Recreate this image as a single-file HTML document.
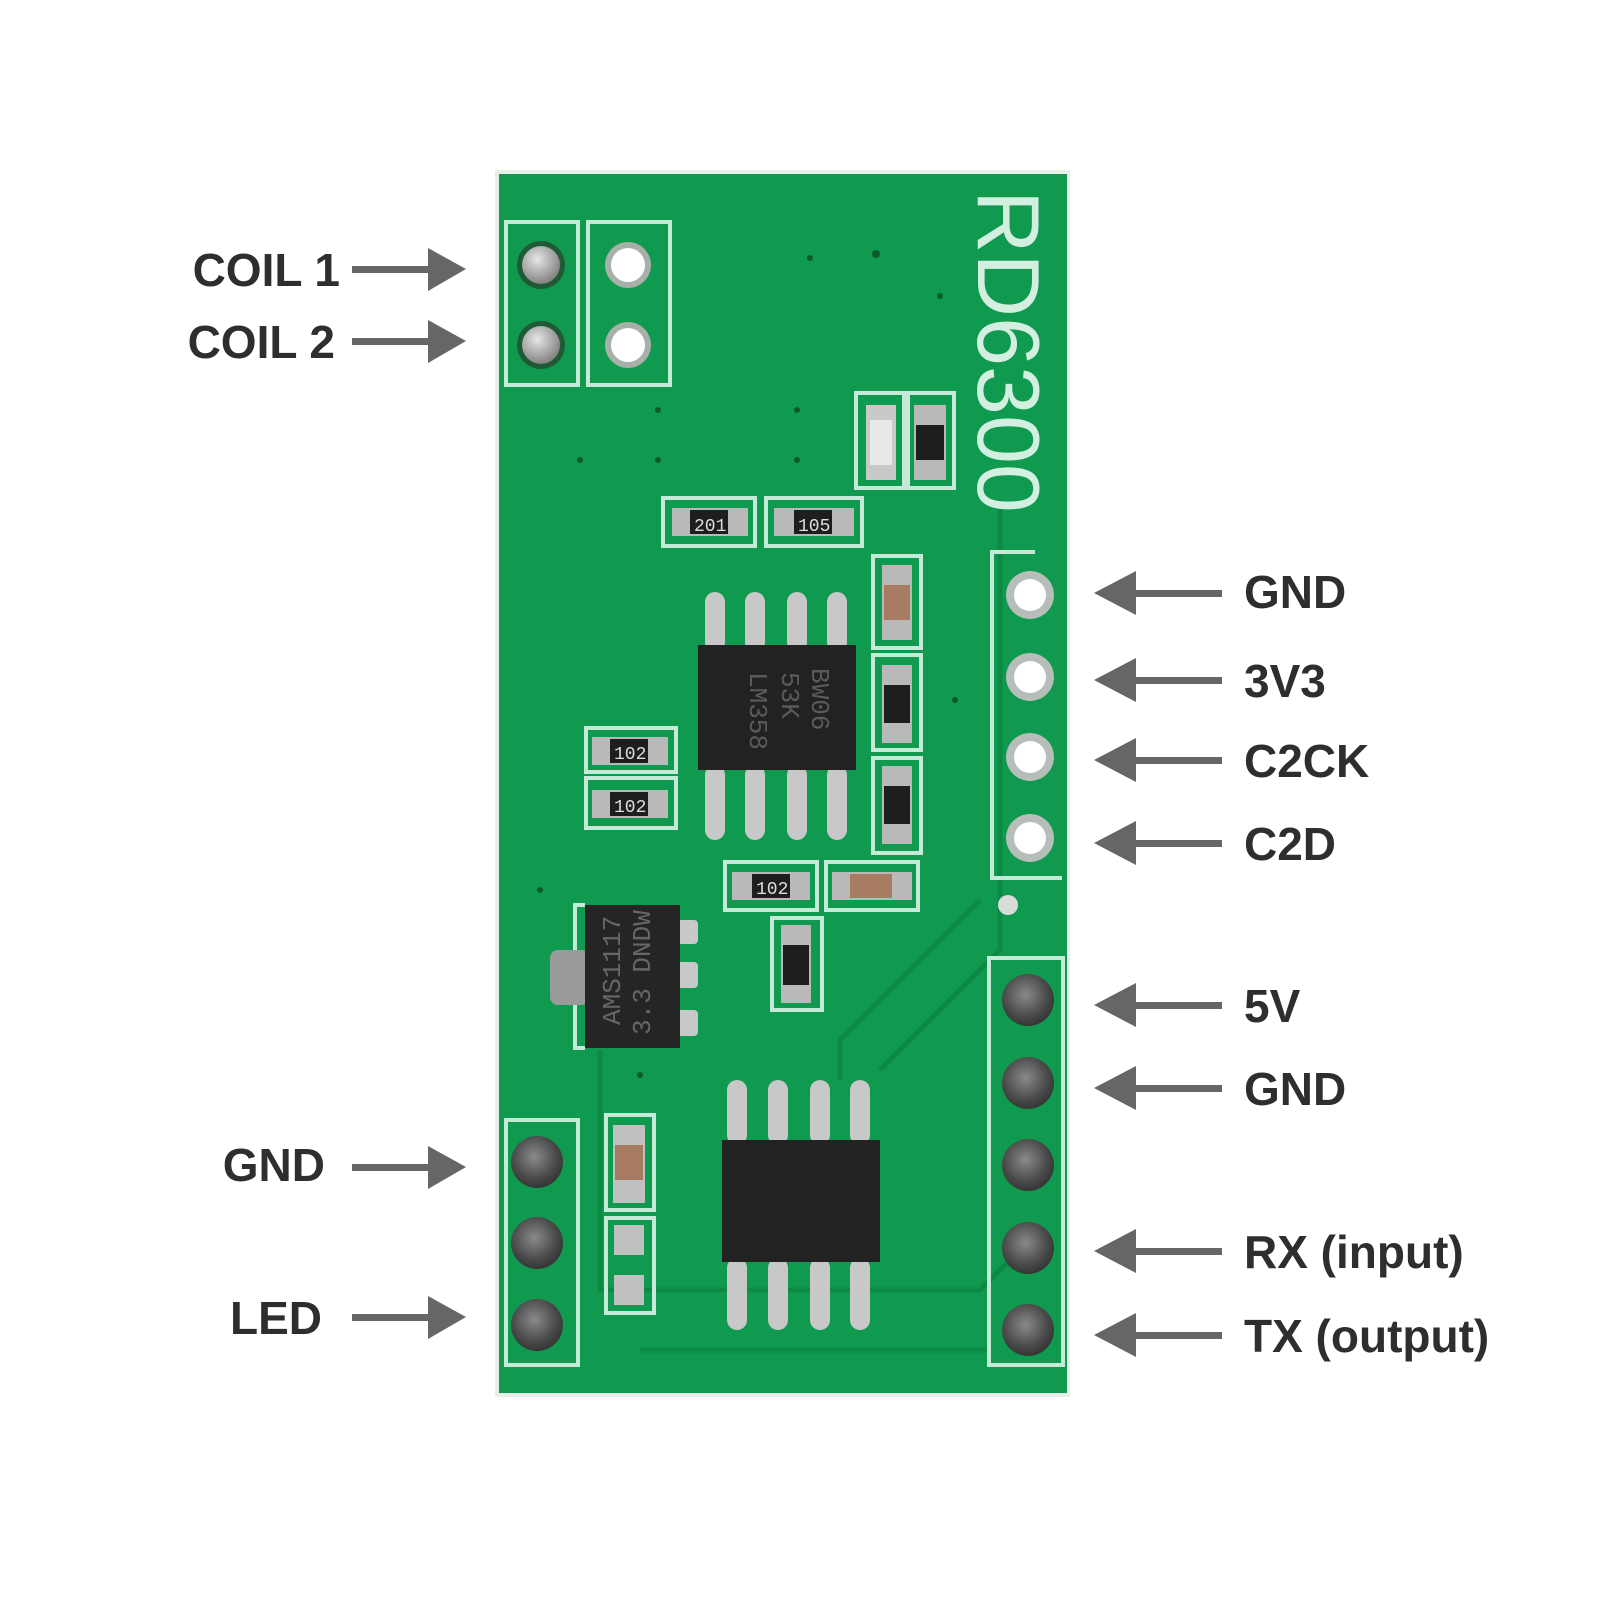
<!DOCTYPE html>
<html><head><meta charset="utf-8"><style>
html,body{margin:0;padding:0;background:#fff}
svg{display:block}
.l{font-family:"Liberation Sans",sans-serif;font-weight:bold;font-size:46px;fill:#2e2e2e}
.silk{fill:none;stroke:#c6ead8;stroke-width:4}
</style></head><body>
<svg width="1600" height="1600" viewBox="0 0 1600 1600">
<defs>
<radialGradient id="sv" cx="40%" cy="35%" r="70%"><stop offset="0" stop-color="#e6e6e6"/><stop offset="1" stop-color="#7c7c7c"/></radialGradient>
<radialGradient id="dk" cx="45%" cy="40%" r="70%"><stop offset="0" stop-color="#8a8a8a"/><stop offset="0.6" stop-color="#4a4a4a"/><stop offset="1" stop-color="#2a2a2a"/></radialGradient>
</defs>
<rect x="495" y="170" width="575" height="1227" fill="#e8efe9"/>
<rect x="499" y="174" width="568" height="1219" fill="#0f9a4f"/>
<g fill="none" stroke="#0c8a45" stroke-width="5">
<path d="M1000 500 L1000 950 L880 1070"/>
<path d="M980 900 L840 1040 L840 1080"/>
<path d="M700 1290 L980 1290 L1040 1230"/>
<path d="M640 1350 L990 1350"/>
<path d="M600 1050 L600 1290 L720 1290"/>
</g>
<rect class="silk" x="506" y="222" width="72" height="163"/>
<rect class="silk" x="588" y="222" width="82" height="163"/>
<circle cx="541" cy="265" r="24" fill="#1f5a35"/><circle cx="541" cy="265" r="19" fill="url(#sv)"/>
<circle cx="541" cy="345" r="24" fill="#1f5a35"/><circle cx="541" cy="345" r="19" fill="url(#sv)"/>
<circle cx="628" cy="265" r="23" fill="#a8b0aa"/><circle cx="628" cy="265" r="17" fill="#fff"/>
<circle cx="628" cy="345" r="23" fill="#a8b0aa"/><circle cx="628" cy="345" r="17" fill="#fff"/>
<text x="0" y="0" transform="translate(978,190) rotate(90)" font-family="Liberation Sans,sans-serif" font-size="88" fill="#d2efe0">RD6300</text>
<path class="silk" d="M1035 552 L992 552 L992 878 L1062 878"/>
<g>
<circle cx="1030" cy="595" r="24" fill="#b7bdb8"/><circle cx="1030" cy="595" r="16" fill="#fff"/>
<circle cx="1030" cy="677" r="24" fill="#b7bdb8"/><circle cx="1030" cy="677" r="16" fill="#fff"/>
<circle cx="1030" cy="757" r="24" fill="#b7bdb8"/><circle cx="1030" cy="757" r="16" fill="#fff"/>
<circle cx="1030" cy="838" r="24" fill="#b7bdb8"/><circle cx="1030" cy="838" r="16" fill="#fff"/>
</g>
<circle cx="1008" cy="905" r="10" fill="#d9dcd9"/>
<rect class="silk" x="989" y="958" width="74" height="407"/>
<g>
<circle cx="1028" cy="1000" r="26" fill="url(#dk)"/>
<circle cx="1028" cy="1083" r="26" fill="url(#dk)"/>
<circle cx="1028" cy="1165" r="26" fill="url(#dk)"/>
<circle cx="1028" cy="1248" r="26" fill="url(#dk)"/>
<circle cx="1028" cy="1330" r="26" fill="url(#dk)"/>
</g>
<rect class="silk" x="506" y="1120" width="72" height="245"/>
<circle cx="537" cy="1162" r="26" fill="url(#dk)"/>
<circle cx="537" cy="1243" r="26" fill="url(#dk)"/>
<circle cx="537" cy="1325" r="26" fill="url(#dk)"/>
<g fill="#c8c8c8">
<rect x="705" y="592" width="20" height="60" rx="10"/><rect x="745" y="592" width="20" height="60" rx="10"/><rect x="787" y="592" width="20" height="60" rx="10"/><rect x="827" y="592" width="20" height="60" rx="10"/>
<rect x="705" y="765" width="20" height="75" rx="10"/><rect x="745" y="765" width="20" height="75" rx="10"/><rect x="787" y="765" width="20" height="75" rx="10"/><rect x="827" y="765" width="20" height="75" rx="10"/>
</g>
<rect x="698" y="645" width="158" height="125" fill="#222"/>
<g font-family="Liberation Mono,monospace" font-size="26" fill="#5a5a5a">
<text transform="translate(812,668) rotate(90)">BW06</text>
<text transform="translate(782,672) rotate(90)">53K</text>
<text transform="translate(750,672) rotate(90)">LM358</text>
</g>
<g fill="#c8c8c8">
<rect x="727" y="1080" width="20" height="65" rx="10"/><rect x="768" y="1080" width="20" height="65" rx="10"/><rect x="810" y="1080" width="20" height="65" rx="10"/><rect x="850" y="1080" width="20" height="65" rx="10"/>
<rect x="727" y="1258" width="20" height="72" rx="10"/><rect x="768" y="1258" width="20" height="72" rx="10"/><rect x="810" y="1258" width="20" height="72" rx="10"/><rect x="850" y="1258" width="20" height="72" rx="10"/>
</g>
<rect x="722" y="1140" width="158" height="122" fill="#222"/>
<path class="silk" d="M585 905 L575 905 L575 1048 L585 1048"/>
<rect x="550" y="950" width="40" height="55" rx="8" fill="#9a9a9a"/>
<rect x="662" y="920" width="36" height="24" rx="4" fill="#c8c8c8"/>
<rect x="662" y="962" width="36" height="26" rx="4" fill="#c8c8c8"/>
<rect x="662" y="1010" width="36" height="26" rx="4" fill="#c8c8c8"/>
<rect x="585" y="905" width="95" height="143" fill="#252525"/>
<text transform="translate(620,1025) rotate(-90)" font-family="Liberation Mono,monospace" font-size="26" fill="#666">AMS1117</text>
<text transform="translate(650,1035) rotate(-90)" font-family="Liberation Mono,monospace" font-size="26" fill="#666">3.3 DNDW</text>
<g>
<rect class="silk" x="663" y="498" width="92" height="48"/>
<rect x="672" y="508" width="76" height="28" fill="#b9b9b9"/><rect x="690" y="510" width="38" height="24" fill="#1e1e1e"/>
<text x="694" y="531" font-family="Liberation Mono,monospace" font-size="18" fill="#ddd">201</text>
<rect class="silk" x="766" y="498" width="96" height="48"/>
<rect x="774" y="508" width="80" height="28" fill="#b9b9b9"/><rect x="794" y="510" width="38" height="24" fill="#1e1e1e"/>
<text x="798" y="531" font-family="Liberation Mono,monospace" font-size="18" fill="#ddd">105</text>
<rect class="silk" x="586" y="728" width="90" height="44"/>
<rect x="592" y="737" width="76" height="28" fill="#b9b9b9"/><rect x="610" y="739" width="38" height="24" fill="#1e1e1e"/>
<text x="614" y="759" font-family="Liberation Mono,monospace" font-size="18" fill="#ddd">102</text>
<rect class="silk" x="586" y="778" width="90" height="50"/>
<rect x="592" y="790" width="76" height="28" fill="#b9b9b9"/><rect x="610" y="792" width="38" height="24" fill="#1e1e1e"/>
<text x="614" y="812" font-family="Liberation Mono,monospace" font-size="18" fill="#ddd">102</text>
<rect class="silk" x="725" y="862" width="92" height="48"/>
<rect x="732" y="872" width="78" height="28" fill="#b9b9b9"/><rect x="752" y="874" width="38" height="24" fill="#1e1e1e"/>
<text x="756" y="894" font-family="Liberation Mono,monospace" font-size="18" fill="#ddd">102</text>
<rect class="silk" x="826" y="862" width="92" height="48"/>
<rect x="832" y="872" width="80" height="28" fill="#b9b9b9"/><rect x="850" y="874" width="42" height="24" fill="#a87c62"/>
<rect class="silk" x="772" y="918" width="50" height="92"/>
<rect x="781" y="925" width="30" height="78" fill="#b9b9b9"/><rect x="783" y="945" width="26" height="40" fill="#1e1e1e"/>
<rect class="silk" x="873" y="556" width="48" height="92"/>
<rect x="882" y="565" width="30" height="75" fill="#b9b9b9"/><rect x="884" y="585" width="26" height="35" fill="#a87c62"/>
<rect class="silk" x="873" y="655" width="48" height="95"/>
<rect x="882" y="665" width="30" height="78" fill="#b9b9b9"/><rect x="884" y="685" width="26" height="38" fill="#1e1e1e"/>
<rect class="silk" x="873" y="758" width="48" height="95"/>
<rect x="882" y="766" width="30" height="78" fill="#b9b9b9"/><rect x="884" y="786" width="26" height="38" fill="#1e1e1e"/>
<rect class="silk" x="856" y="393" width="48" height="95"/>
<rect x="866" y="405" width="30" height="75" fill="#c9c9c9"/><rect x="870" y="420" width="22" height="45" fill="#e8e8e8"/>
<rect class="silk" x="908" y="393" width="46" height="95"/>
<rect x="914" y="405" width="32" height="75" fill="#b9b9b9"/><rect x="916" y="425" width="28" height="35" fill="#1e1e1e"/>
<rect class="silk" x="606" y="1115" width="48" height="95"/>
<rect x="613" y="1125" width="32" height="78" fill="#c0c0c0"/><rect x="615" y="1145" width="28" height="35" fill="#a87c62"/>
<rect class="silk" x="606" y="1218" width="48" height="95"/>
<rect x="614" y="1225" width="30" height="30" fill="#c0c0c0"/><rect x="614" y="1275" width="30" height="30" fill="#c0c0c0"/>
</g>
<g fill="#0a5a2c">
<circle cx="810" cy="258" r="3"/><circle cx="876" cy="254" r="4"/><circle cx="940" cy="296" r="3"/><circle cx="658" cy="410" r="3"/><circle cx="797" cy="410" r="3"/><circle cx="580" cy="460" r="3"/><circle cx="658" cy="460" r="3"/><circle cx="797" cy="460" r="3"/><circle cx="540" cy="890" r="3"/><circle cx="640" cy="1075" r="3"/><circle cx="955" cy="700" r="3"/>
</g>
<g fill="#666" stroke="none">
<rect x="352" y="266" width="80" height="7"/><polygon points="428,248 466,269 428,291"/>
<rect x="352" y="338" width="80" height="7"/><polygon points="428,320 466,341 428,363"/>
<rect x="352" y="1164" width="80" height="7"/><polygon points="428,1146 466,1167 428,1189"/>
<rect x="352" y="1314" width="80" height="7"/><polygon points="428,1296 466,1317 428,1339"/>
</g>
<g fill="#666">
<rect x="1130" y="590" width="92" height="7"/><polygon points="1136,571 1094,593 1136,615"/>
<rect x="1130" y="677" width="92" height="7"/><polygon points="1136,658 1094,680 1136,702"/>
<rect x="1130" y="757" width="92" height="7"/><polygon points="1136,738 1094,760 1136,782"/>
<rect x="1130" y="840" width="92" height="7"/><polygon points="1136,821 1094,843 1136,865"/>
<rect x="1130" y="1002" width="92" height="7"/><polygon points="1136,983 1094,1005 1136,1027"/>
<rect x="1130" y="1085" width="92" height="7"/><polygon points="1136,1066 1094,1088 1136,1110"/>
<rect x="1130" y="1248" width="92" height="7"/><polygon points="1136,1229 1094,1251 1136,1273"/>
<rect x="1130" y="1332" width="92" height="7"/><polygon points="1136,1313 1094,1335 1136,1357"/>
</g>
<g class="l">
<text x="340" y="286" text-anchor="end">COIL 1</text>
<text x="335" y="358" text-anchor="end">COIL 2</text>
<text x="325" y="1181" text-anchor="end">GND</text>
<text x="322" y="1334" text-anchor="end">LED</text>
<text x="1244" y="608">GND</text>
<text x="1244" y="697">3V3</text>
<text x="1244" y="777">C2CK</text>
<text x="1244" y="860">C2D</text>
<text x="1244" y="1022">5V</text>
<text x="1244" y="1105">GND</text>
<text x="1244" y="1268">RX (input)</text>
<text x="1244" y="1352">TX (output)</text>
</g>
</svg>
</body></html>
